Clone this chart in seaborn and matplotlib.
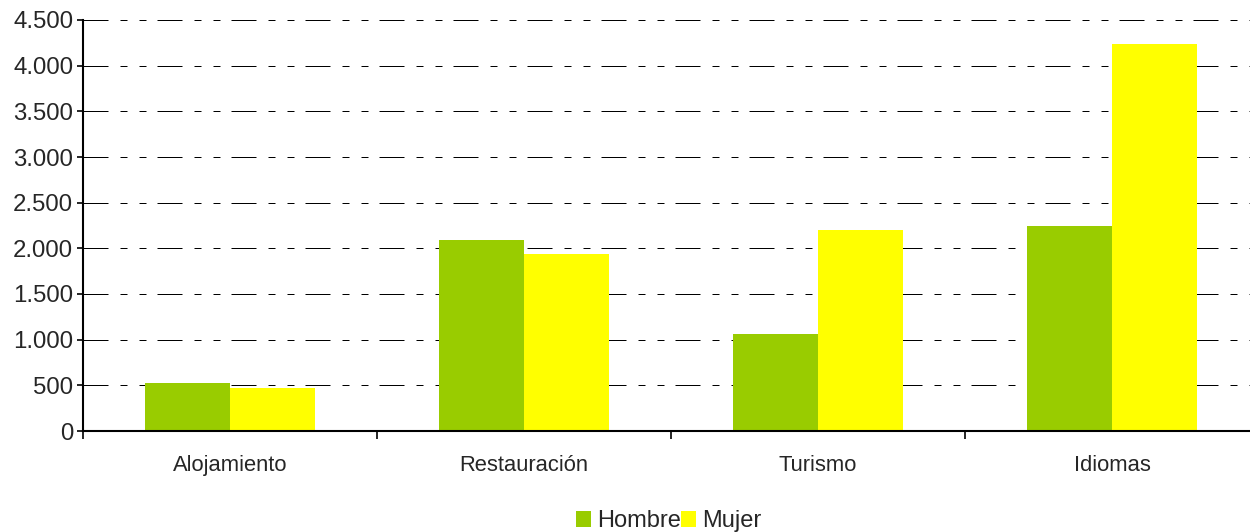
import matplotlib
matplotlib.use("Agg")
import matplotlib.pyplot as plt
from matplotlib.patches import Patch
from matplotlib.ticker import FuncFormatter, FixedLocator
import seaborn as sns
import pandas as pd

categories = ["Alojamiento", "Restauración", "Turismo", "Idiomas"]
hombre = [530, 2090, 1060, 2245]
mujer = [470, 1940, 2200, 4240]
series_names = ["Hombre", "Mujer"]
colors = ["#99CC00", "#FFFF00"]
y_ticks = [0, 500, 1000, 1500, 2000, 2500, 3000, 3500, 4000, 4500]

df = pd.DataFrame({
    "cat": categories * 2,
    "val": hombre + mujer,
    "sex": [series_names[0]] * len(categories) + [series_names[1]] * len(categories),
})

sns.set_style("white")
plt.rcParams["font.family"] = ["Liberation Sans", "DejaVu Sans"]

fig = plt.figure(figsize=(12.5, 5.32), dpi=100)
ax = fig.add_axes([83 / 1250, (532 - 431) / 532, 1176 / 1250, 411 / 532])

sns.barplot(data=df, x="cat", y="val", hue="sex", palette=colors,
            width=0.575, saturation=1, legend=False, ax=ax, linewidth=0, gap=0)

ax.set_xlim(-0.5, 3.5)
ax.set_ylim(0, 4500)
ax.set_yticks(y_ticks)
ax.yaxis.set_major_formatter(FuncFormatter(lambda v, p: f"{int(v):,}".replace(",", ".")))
ax.tick_params(axis="y", left=True, labelsize=17.3, length=4, width=1.2,
               direction="out", color="black", pad=3)

ax.xaxis.set_major_locator(FixedLocator([-0.5, 0.5, 1.5, 2.5, 3.5]))
ax.xaxis.set_major_formatter(FuncFormatter(lambda v, p: ""))
ax.xaxis.set_minor_locator(FixedLocator([0, 1, 2, 3]))
ax.set_xticklabels(categories, minor=True)
ax.tick_params(axis="x", which="major", bottom=True, length=6, width=1.2,
               direction="out", color="black")
ax.tick_params(axis="x", which="minor", bottom=True, length=0, labelsize=15.8, pad=17)
ax.set_xlabel("")
ax.set_ylabel("")

for s in ["top", "right"]:
    ax.spines[s].set_visible(False)
for s in ["left", "bottom"]:
    ax.spines[s].set_color("black")
    ax.spines[s].set_linewidth(1.5)

ax.set_axisbelow(True)
ax.yaxis.grid(True, color="black", linewidth=0.72,
              linestyle=(0, (25, 12, 7, 12, 7, 11)))
ax.xaxis.grid(False)

handles = [Patch(facecolor=c, edgecolor="none") for c in colors]
fig.legend(handles, series_names, loc="center", bbox_to_anchor=(0.535, 0.02),
           ncol=2, frameon=False, fontsize=17, handlelength=0.65,
           handleheight=0.65, handletextpad=0.25, columnspacing=0.0,
           borderaxespad=0, borderpad=0)

fig.savefig("out.png", dpi=100, facecolor="white")
